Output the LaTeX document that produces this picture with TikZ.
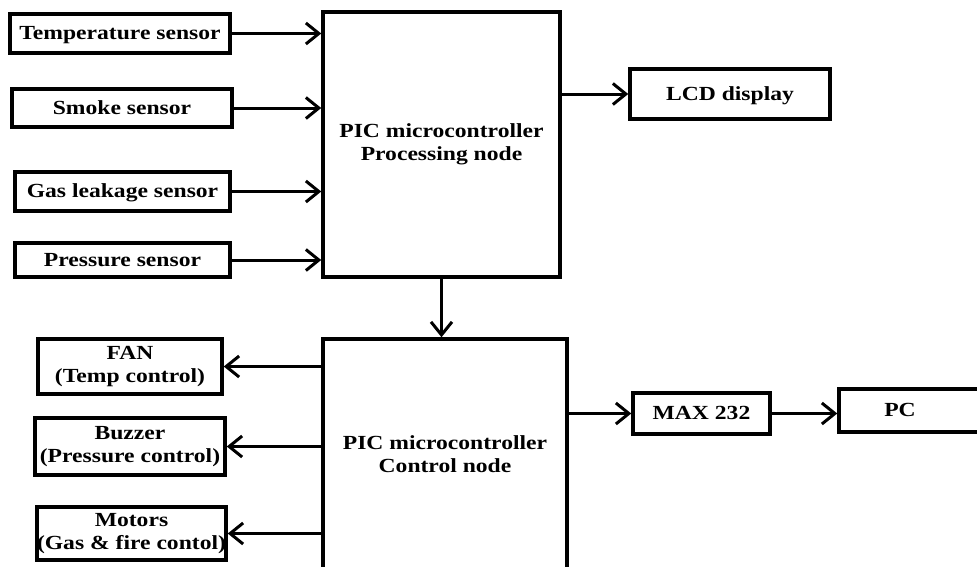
\documentclass[tikz,border=0pt]{standalone}
\usepackage{fontspec}
\setmainfont[FakeStretch=1.18]{Liberation Serif}
\usetikzlibrary{arrows.meta}
\begin{document}
\begin{tikzpicture}[x=1pt,y=-1pt,
  box/.style={draw,line width=3.5pt,rectangle,inner sep=0pt,align=center,
    font=\fontsize{20}{23}\selectfont\bfseries},
  oneline/.style={text depth=1pt},
  conn/.style={line width=3pt,-{Straight Barb[length=13pt,width=21pt,line width=3pt]}}]
\useasboundingbox (0,0) rectangle (977,566);
\node[box,oneline,minimum width=220pt,minimum height=39pt] (temp) at (120,33.5) {Temperature sensor};
\node[box,oneline,minimum width=220pt,minimum height=38pt] (smoke) at (122,108) {Smoke sensor};
\node[box,oneline,minimum width=215pt,minimum height=39pt] (gas) at (122.5,191.5) {Gas leakage sensor};
\node[box,oneline,minimum width=215pt,minimum height=34pt] (press) at (122.5,260) {Pressure sensor};
\node[box,minimum width=237pt,minimum height=265pt] (proc) at (441.5,144.5) {PIC microcontroller\\Processing node};
\node[box,oneline,minimum width=200pt,minimum height=50pt] (lcd) at (730,94) {LCD display};
\node[box,minimum width=244pt,minimum height=231pt] (ctrl) at (445,454.5) {\\[-10pt]PIC microcontroller\\Control node};
\node[box,oneline,minimum width=137pt,minimum height=41pt] (max) at (701.5,413.5) {MAX 232};
\node[box,oneline,minimum width=146pt,minimum height=43pt] (pc) at (912,410.5) {\hspace*{-24pt}PC};
\node[box,minimum width=184pt,minimum height=55pt] (fan) at (130,366.5) {FAN\\(Temp control)};
\node[box,minimum width=190pt,minimum height=57pt] (buzz) at (130,446.5) {Buzzer\\(Pressure control)};
\node[box,minimum width=187pt,minimum height=53pt] (mot) at (131.5,533.5) {Motors\\(Gas \& fire contol)};
\draw[conn] (temp.east) -- (temp.east -| proc.west);
\draw[conn] (smoke.east) -- (smoke.east -| proc.west);
\draw[conn] (gas.east) -- (gas.east -| proc.west);
\draw[conn] (press.east) -- (press.east -| proc.west);
\draw[conn] (proc.east |- lcd.west) -- (lcd.west);
\draw[conn] (proc.south) -- (proc.south |- ctrl.north);
\draw[conn] (ctrl.west |- fan.east) -- (fan.east);
\draw[conn] (ctrl.west |- buzz.east) -- (buzz.east);
\draw[conn] (ctrl.west |- mot.east) -- (mot.east);
\draw[conn] (ctrl.east |- max.west) -- (max.west);
\draw[conn] (max.east) -- (max.east -| pc.west);
\end{tikzpicture}
\end{document}
